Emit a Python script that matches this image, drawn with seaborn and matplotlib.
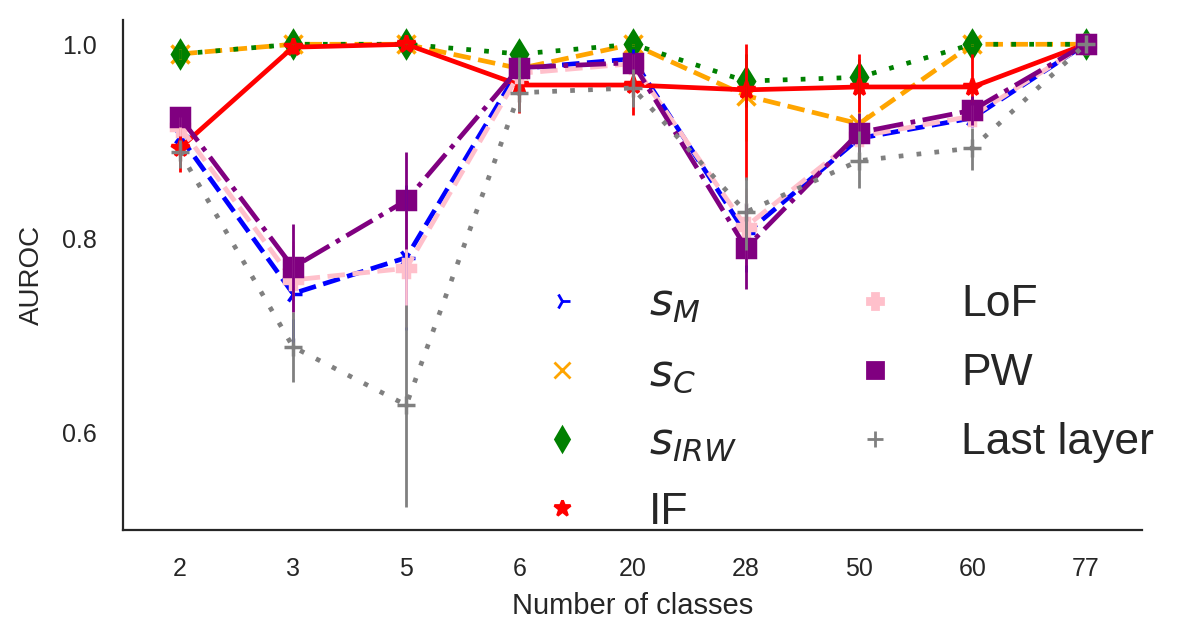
import numpy as np
import pandas as pd
import seaborn as sns
import matplotlib.pyplot as plt
from matplotlib.lines import Line2D

# -----------------------------
# Data
# -----------------------------
classes = ["2", "3", "5", "6", "20", "28", "50", "60", "77"]

methods = ["$s_M$", "$s_C$", "$s_{IRW}$", "IF", "LoF", "PW", "Last layer"]
colors = ["blue", "orange", "green", "red", "pink", "purple", "grey"]
markers = ["4", "x", "d", "*", "P", "s", "+"]

s_m = [0.905, 0.743, 0.780, 0.975, 0.985, 0.805, 0.903, 0.924, 1.000]
s_m_lo = [0.895, 0.693, 0.705, 0.965, 0.975, 0.765, 0.890, 0.915, 1.000]
s_m_hi = [0.915, 0.793, 0.855, 0.985, 0.995, 0.845, 0.915, 0.933, 1.000]

s_c = [0.990, 1.000, 1.000, 0.975, 1.000, 0.947, 0.918, 1.000, 1.000]
s_c_lo = [0.985, 0.998, 0.998, 0.965, 0.998, 0.900, 0.890, 0.998, 1.000]
s_c_hi = [0.995, 1.000, 1.000, 0.985, 1.000, 0.990, 0.945, 1.000, 1.000]

s_irw = [0.990, 1.000, 1.000, 0.990, 1.000, 0.962, 0.966, 1.000, 1.000]
s_irw_lo = [0.985, 0.998, 0.998, 0.985, 0.998, 0.935, 0.945, 0.998, 1.000]
s_irw_hi = [0.995, 1.000, 1.000, 0.995, 1.000, 0.990, 0.985, 1.000, 1.000]

iforest = [0.893, 0.997, 1.000, 0.958, 0.958, 0.953, 0.956, 0.956, 1.000]
iforest_lo = [0.868, 0.990, 0.996, 0.929, 0.927, 0.860, 0.930, 0.940, 1.000]
iforest_hi = [0.915, 1.000, 1.000, 0.985, 0.990, 1.000, 0.990, 0.990, 1.000]

lof = [0.915, 0.757, 0.769, 0.970, 0.980, 0.812, 0.905, 0.926, 1.000]
lof_lo = [0.905, 0.717, 0.709, 0.960, 0.970, 0.772, 0.890, 0.915, 1.000]
lof_hi = [0.925, 0.797, 0.829, 0.980, 0.990, 0.852, 0.920, 0.937, 1.000]

pw = [0.925, 0.770, 0.839, 0.976, 0.981, 0.790, 0.909, 0.932, 1.000]
pw_lo = [0.915, 0.724, 0.789, 0.966, 0.971, 0.748, 0.889, 0.917, 1.000]
pw_hi = [0.935, 0.815, 0.889, 0.986, 0.991, 0.835, 0.929, 0.947, 1.000]

last_layer = [0.889, 0.688, 0.628, 0.950, 0.955, 0.827, 0.880, 0.893, 1.000]
last_layer_lo = [0.872, 0.652, 0.523, 0.930, 0.935, 0.788, 0.852, 0.870, 0.995]
last_layer_hi = [0.901, 0.724, 0.731, 0.987, 0.975, 0.863, 0.911, 0.914, 1.000]

values = [s_m, s_c, s_irw, iforest, lof, pw, last_layer]
lows = [s_m_lo, s_c_lo, s_irw_lo, iforest_lo, lof_lo, pw_lo, last_layer_lo]
highs = [s_m_hi, s_c_hi, s_irw_hi, iforest_hi, lof_hi, pw_hi, last_layer_hi]

# long format table for seaborn
df = pd.DataFrame({
    "classes": classes * len(methods),
    "method": np.repeat(methods, len(classes)),
    "auroc": np.concatenate(values),
})

# -----------------------------
# Plot
# -----------------------------
sns.set_style("white")
plt.rcParams["font.family"] = ["Liberation Sans", "DejaVu Sans"]
plt.rcParams["text.color"] = ".15"

linestyles = ["--", "--", (0, (1, 2.8)), "-", "--", "-.", (0, (1, 2.8))]

fig, ax = plt.subplots(figsize=(11.96, 6.26), dpi=100)
fig.subplots_adjust(left=0.103, right=0.955, top=0.968, bottom=0.153)

sns.pointplot(data=df, x="classes", y="auroc", hue="method", order=classes,
              hue_order=methods, palette=colors, markers=markers,
              linestyles=linestyles, errorbar=None, legend=False, ax=ax,
              linewidth=3.4, markersize=13, markeredgewidth=2.5)

# error bars
xpos = np.arange(len(classes))
for lo, hi, c in zip(lows, highs, colors):
    ax.vlines(xpos, lo, hi, color=c, linewidth=2)

ax.set_xlim(-0.5, len(classes) - 0.5)
ax.set_ylim(0.499, 1.025)
ax.set_yticks([0.6, 0.8, 1.0])
ax.set_yticklabels(["0.6", "0.8", "1.0"])
ax.tick_params(axis="both", length=0, pad=19, labelsize=18, labelcolor=".15")
ax.set_xlabel("Number of classes", fontsize=21, color=".15", labelpad=8)
ax.set_ylabel("AUROC", fontsize=20, color=".15", labelpad=12)

sns.despine(ax=ax)
for side in ["left", "bottom"]:
    ax.spines[side].set_linewidth(1.6)
    ax.spines[side].set_color(".15")

handles = [Line2D([], [], marker=m, color=c, linestyle="None", markersize=12,
                  markeredgewidth=2)
           for m, c in zip(markers, colors)]
ax.legend(handles, methods, ncol=2, frameon=False, fontsize=32,
          columnspacing=2.1, labelspacing=0.63, handletextpad=0.95,
          borderpad=0, borderaxespad=0, loc="upper left",
          bbox_to_anchor=(0.433, 0.546), bbox_transform=fig.transFigure)

plt.savefig("out.png", dpi=100)
